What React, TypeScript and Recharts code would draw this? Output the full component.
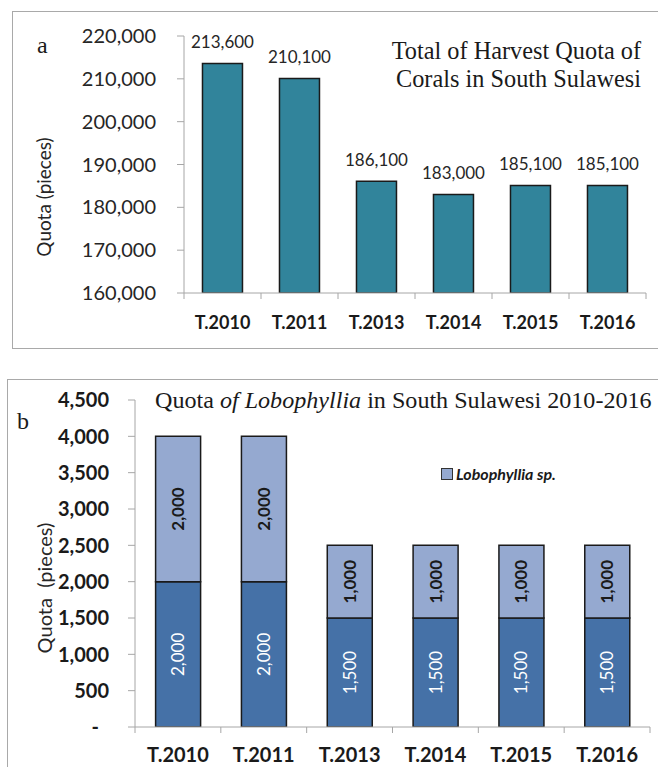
import React from 'react';
import { BarChart, Bar, XAxis, YAxis, LabelList, Legend } from 'recharts';

const categories = ['T.2010', 'T.2011', 'T.2013', 'T.2014', 'T.2015', 'T.2016'];
const totalQuota = [213600, 210100, 186100, 183000, 185100, 185100];
const lobLower = [2000, 2000, 1500, 1500, 1500, 1500];
const lobUpper = [2000, 2000, 1000, 1000, 1000, 1000];
const yTicksA = [160000, 170000, 180000, 190000, 200000, 210000, 220000];
const yTicksB = [0, 500, 1000, 1500, 2000, 2500, 3000, 3500, 4000, 4500];

const dataA = categories.map((c, i) => ({ cat: c, total: totalQuota[i] }));
const dataB = categories.map((c, i) => ({ cat: c, low: lobLower[i], up: lobUpper[i] }));

const SANS = 'Lato, "Open Sans", sans-serif';
const SERIF = '"Liberation Serif", "DejaVu Serif", serif';
const AXIS_GRAY = '#a6a6a6';
const fmt = (v: any) => Number(v).toLocaleString('en-US');

// Category tick: label at band centre, tick marks at band boundaries (Excel style)
const XTick = (props: any) => {
  const { x, y, payload, index, visibleTicksCount, gap, fontSize } = props;
  const half = payload.offset || 0;
  const axisY = y - gap;
  const last = index === visibleTicksCount - 1;
  return (
    <g>
      <line x1={x - half} x2={x - half} y1={axisY} y2={axisY + 6} stroke={AXIS_GRAY} />
      {last && <line x1={x + half} x2={x + half} y1={axisY} y2={axisY + 6} stroke={AXIS_GRAY} />}
      <text x={x} y={y} dy="0.71em" textAnchor="middle" fontFamily={SANS} fontWeight={700} fontSize={fontSize} fill="#1a1a1a">
        {payload.value}
      </text>
    </g>
  );
};

const YTickB = (props: any) => {
  const { x, y, payload } = props;
  const v = payload.value;
  return (
    <text x={v === 0 ? x - 10 : x} y={y} dy="0.36em" textAnchor="end" fontFamily={SANS} fontWeight={700} fontSize={20} fill="#1a1a1a">
      {v === 0 ? '-' : fmt(v)}
    </text>
  );
};

const LegendB = (props: any) => {
  const { payload } = props;
  const items = (payload || []).filter((e: any) => e.dataKey === 'up');
  return (
    <div style={{ display: 'flex', flexDirection: 'column' }}>
      {items.map((e: any) => (
        <div key={e.value} style={{ display: 'flex', alignItems: 'center' }}>
          <span style={{ display: 'inline-block', width: 10, height: 10, background: e.color, border: '1px solid #333', marginRight: 3 }} />
          <span style={{ fontFamily: SANS, fontWeight: 700, fontStyle: 'italic', fontSize: 16, color: '#1a1a1a' }}>{e.value}</span>
        </div>
      ))}
    </div>
  );
};

export default function App() {
  return (
    <div style={{ position: 'absolute', left: 0, top: 0, width: 658, height: 767, overflow: 'hidden', background: '#fff' }}>
      <div style={{ position: 'absolute', left: 12, top: 11, width: 700, height: 336, border: '1.5px solid #a9a9a9' }} />
      <div style={{ position: 'absolute', left: 7, top: 379, width: 700, height: 450, border: '1.5px solid #a9a9a9' }} />

      <div style={{ position: 'absolute', left: 0, top: 0 }}>
        <BarChart width={658} height={360} data={dataA} margin={{ top: 36, right: 12, bottom: 37, left: 84 }} barCategoryGap="24%">
          <XAxis dataKey="cat" height={30} axisLine={{ stroke: AXIS_GRAY }} tickLine={false} tickSize={0} tickMargin={23}
            tick={<XTick gap={23} fontSize={18} />} interval={0} />
          <YAxis width={100} domain={[160000, 220000]} ticks={yTicksA} allowDataOverflow interval={0}
            axisLine={{ stroke: AXIS_GRAY }} tickLine={{ stroke: AXIS_GRAY }} tickSize={7} tickMargin={21}
            tickFormatter={fmt} tick={{ fontFamily: SANS, fontSize: 20, fill: '#262626' }} />
          <Bar dataKey="total" fill="#31849B" stroke="#1a1a1a" strokeWidth={1.5} isAnimationActive={false}>
            <LabelList dataKey="total" position="top" offset={15} formatter={fmt}
              style={{ fontFamily: SANS, fontSize: 17, fill: '#262626' }} />
          </Bar>
        </BarChart>
      </div>

      <div style={{ position: 'absolute', left: 0, top: 360 }}>
        <BarChart width={658} height={407} data={dataB} margin={{ top: 40, right: 8, bottom: 10, left: 35 }} barCategoryGap="24%">
          <XAxis dataKey="cat" height={30} axisLine={{ stroke: AXIS_GRAY }} tickLine={false} tickSize={0} tickMargin={21}
            tick={<XTick gap={21} fontSize={20} />} interval={0} />
          <YAxis width={100} domain={[0, 4500]} ticks={yTicksB} allowDataOverflow interval={0}
            axisLine={{ stroke: AXIS_GRAY }} tickLine={{ stroke: AXIS_GRAY }} tickSize={7} tickMargin={19}
            tick={<YTickB />} />
          <Legend layout="horizontal" verticalAlign="middle" align="center" content={<LegendB />}
            wrapperStyle={{ left: 441, top: 104, width: 'auto' }} />
          <Bar dataKey="low" stackId="s" name="Lobophyllia sp. (lower)" legendType="none" fill="#4571A7" stroke="#1a1a1a" strokeWidth={1.5} isAnimationActive={false}>
            <LabelList dataKey="low" position="center" angle={-90} formatter={fmt}
              style={{ fontFamily: SANS, fontSize: 17, fill: '#ffffff' }} />
          </Bar>
          <Bar dataKey="up" stackId="s" name="Lobophyllia sp." fill="#95A9D0" stroke="#1a1a1a" strokeWidth={1.5} isAnimationActive={false}>
            <LabelList dataKey="up" position="center" angle={-90} formatter={fmt}
              style={{ fontFamily: SANS, fontSize: 17, fontWeight: 700, fill: '#1a1a1a' }} />
          </Bar>
        </BarChart>
      </div>

      <svg width={658} height={767} style={{ position: 'absolute', left: 0, top: 0, pointerEvents: 'none' }}>
        <text x={37} y={53} fontFamily={SERIF} fontSize={24} fill="#1a1a1a">a</text>
        <text x={641} y={59} textAnchor="end" fontFamily={SERIF} fontSize={24.3} fill="#1a1a1a">Total of Harvest Quota of</text>
        <text x={641} y={87} textAnchor="end" fontFamily={SERIF} fontSize={24.3} fill="#1a1a1a">Corals in South Sulawesi</text>
        <text transform="translate(51,197) rotate(-90)" textAnchor="middle" fontFamily={SANS} fontSize={19} fill="#262626">Quota (pieces)</text>

        <text x={17} y={429} fontFamily={SERIF} fontSize={24} fill="#1a1a1a">b</text>
        <text x={155} y={408} fontFamily={SERIF} fontSize={24.1} fill="#1a1a1a" style={{ whiteSpace: 'pre' }}>
          Quota <tspan fontStyle="italic">of Lobophyllia</tspan> in South Sulawesi 2010-2016
        </text>
        <text transform="translate(52,588) rotate(-90)" textAnchor="middle" fontFamily={SANS} fontSize={20} fill="#262626" style={{ whiteSpace: 'pre' }}>Quota  (pieces)</text>
      </svg>
    </div>
  );
}
